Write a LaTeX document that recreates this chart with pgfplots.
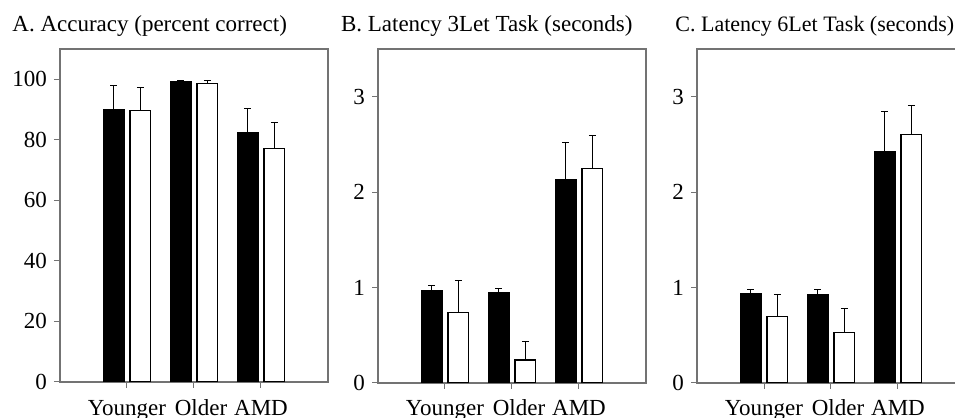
\documentclass[border=0pt]{standalone}
\usepackage{fontspec}
\setmainfont{Liberation Serif}
\usepackage{pgfplots}
\pgfplotsset{compat=1.18}

\pgfplotsset{
  panel/.style={
    scale only axis, width=134pt, height=167pt, anchor=south west,
    xmin=0, xmax=4, ymin=0,
    xtick={1,2,3},
    xticklabels={Younger,\hspace*{7pt}Older,AMD},
    axis line style={black!55, line width=0.6pt},
    tick style={black!55, line width=0.5pt},
    tick align=outside, major tick length=3pt, tick pos=left,
    font=\fontsize{11.5}{13}\selectfont,
    /pgf/number format/assume math mode=true,
    xticklabel style={anchor=base, inner sep=0pt, yshift=-13.4pt},
  },
  bars/.style={ybar, bar width=0.31, bar shift=0pt, line width=0.6pt,
    error bars/.cd, y dir=plus, y explicit,
    error bar style={black, line width=0.5pt},
    error mark options={rotate=90, mark size=1.75pt, black, line width=0.5pt}},
  blk/.style={fill=black, draw=black, bars},
  wht/.style={fill=white, draw=black, bars},
}

\begin{document}
\begin{tikzpicture}
% A
\begin{axis}[panel, at={(30pt,18pt)}, height=166.5pt, ymax=110, ytick={0,20,...,100},
  xticklabel style={yshift=-0.5pt}]
\addplot[blk] coordinates {(0.8,90.0) +- (0,8.0) (1.8,99.2) +- (0,0.5) (2.8,82.5) +- (0,7.8)};
\addplot[wht] coordinates {(1.2,89.8) +- (0,7.6) (2.2,98.5) +- (0,1.0) (3.2,77.2) +- (0,8.4)};
\end{axis}
% B
\begin{axis}[panel, at={(189pt,17.5pt)}, ymax=3.5, ytick={0,1,2,3}]
\addplot[blk] coordinates {(0.8,0.97) +- (0,0.05) (1.8,0.95) +- (0,0.045) (2.8,2.13) +- (0,0.39)};
\addplot[wht] coordinates {(1.2,0.74) +- (0,0.33) (2.2,0.24) +- (0,0.20) (3.2,2.25) +- (0,0.34)};
\end{axis}
% C
\begin{axis}[panel, at={(348.5pt,17.5pt)}, ymax=3.5, ytick={0,1,2,3}]
\addplot[blk] coordinates {(0.8,0.94) +- (0,0.04) (1.8,0.93) +- (0,0.05) (2.8,2.42) +- (0,0.43)};
\addplot[wht] coordinates {(1.2,0.70) +- (0,0.23) (2.2,0.53) +- (0,0.25) (3.2,2.60) +- (0,0.31)};
\end{axis}
\begin{scope}[font=\fontsize{11.5}{13}\selectfont]
\node[anchor=base west, inner sep=0pt] at (6pt,193pt) {A. Accuracy (percent correct)};
\node[anchor=base west, inner sep=0pt] at (170.3pt,193pt) {B. Latency 3Let Task (seconds)};
\node[anchor=base west, inner sep=0pt, font=\fontsize{11}{13}\selectfont] at (337.5pt,193pt) {C. Latency 6Let Task (seconds)};
\end{scope}
\pgfresetboundingbox
\useasboundingbox (0,0) rectangle (477.5pt,209pt);
\end{tikzpicture}
\end{document}
